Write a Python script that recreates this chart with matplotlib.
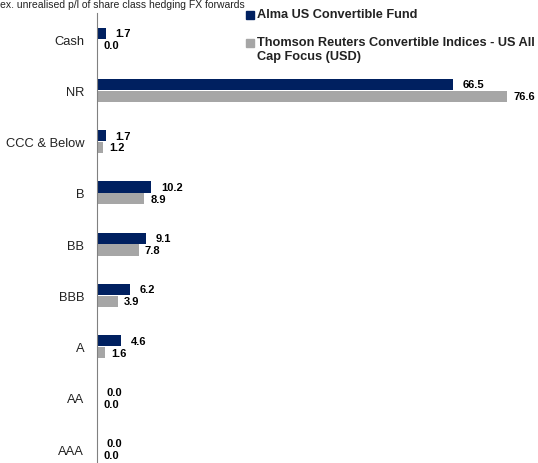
import matplotlib
matplotlib.use('Agg')
from matplotlib import pyplot as plt
from matplotlib.patches import Rectangle
from matplotlib import font_manager
import numpy as np

plt.rcParams['font.family'] = ['Liberation Sans', 'DejaVu Sans']

categories = ['Cash', 'NR', 'CCC & Below', 'B', 'BB', 'BBB', 'A', 'AA', 'AAA']
fund = [1.7, 66.5, 1.7, 10.2, 9.1, 6.2, 4.6, 0.0, 0.0]
index = [0.0, 76.6, 1.2, 8.9, 7.8, 3.9, 1.6, 0.0, 0.0]
series_names = ['Alma US Convertible Fund',
                'Thomson Reuters Convertible Indices - US All\nCap Focus (USD)']

navy = '#002060'
grey = '#a6a6a6'

names = {f.name for f in font_manager.fontManager.ttflist}
narrow = 'Liberation Sans Narrow' if 'Liberation Sans Narrow' in names else 'Liberation Sans'

fig = plt.figure(figsize=(5.38, 4.64), dpi=100)
ax = fig.add_axes([0.180, 0.0, 0.82, 0.970])

# top category first
y = np.arange(len(categories))[::-1]
h = 0.22
ax.barh(y + 0.115, fund, height=h, color=navy)
ax.barh(y - 0.115, index, height=h, color=grey)

for yi, v in zip(y, fund):
    ax.annotate('{0:.1f}'.format(v), (v, yi + 0.115), xytext=(7, 0),
                textcoords='offset points', va='center', ha='left',
                fontsize=8, fontweight='bold', color='black', family=narrow)
for yi, v in zip(y, index):
    ax.annotate('{0:.1f}'.format(v), (v, yi - 0.115), xytext=(4.5, 0),
                textcoords='offset points', va='center', ha='left',
                fontsize=8, fontweight='bold', color='black', family=narrow)

ax.set_yticks(y)
ax.set_yticklabels(categories, fontsize=9.3, color='#222222')
ax.tick_params(axis='y', length=0, pad=9)
ax.set_xticks([])
ax.set_xlim(0, 82.4)
ax.set_ylim(-0.27, 8.51)
for s in ['top', 'right', 'bottom']:
    ax.spines[s].set_visible(False)
ax.spines['left'].set_color('#808080')
ax.patch.set_visible(False)

# legend drawn by hand so the marker sits on the first line
W, H = 538.0, 464.0
for (ypix, name, col) in [(16, series_names[0], navy), (44, series_names[1], grey)]:
    fig.patches.append(Rectangle((246 / W, 1 - (ypix + 4) / H), 8 / W, 8 / H,
                                 transform=fig.transFigure, color=col))
    fig.text(257 / W, 1 - (ypix - 7) / H, name, fontsize=9.2, fontweight='bold',
             va='top', ha='left', color='#222222', linespacing=1.2)

fig.text(0.0, 1 - 8 / H, 'ex. unrealised p/l of share class hedging FX forwards',
         fontsize=7.5, va='baseline', ha='left', color='#222222')

fig.savefig('out.png', dpi=100)
